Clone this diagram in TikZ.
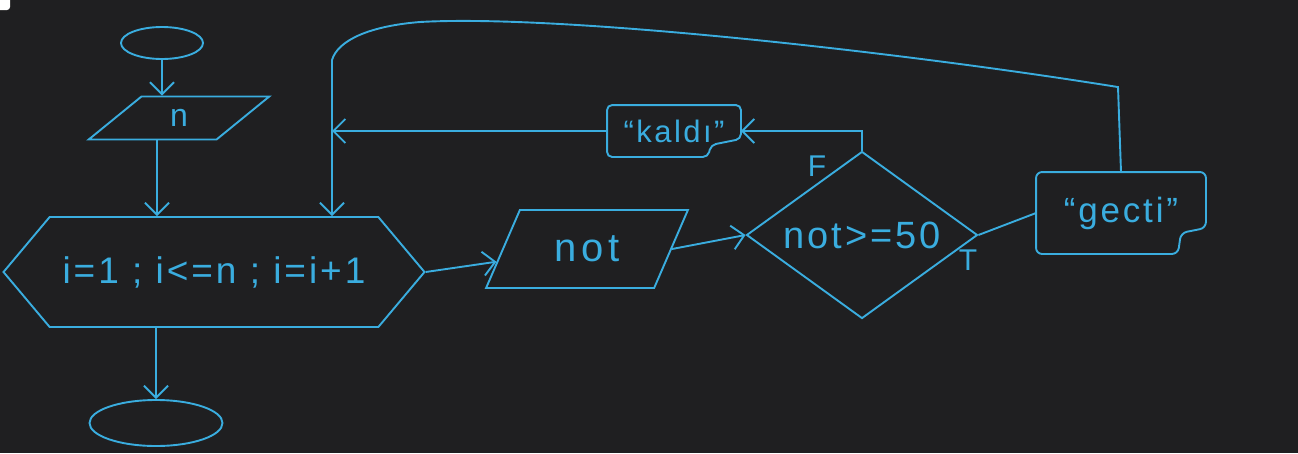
\documentclass[tikz,border=0pt]{standalone}
\usepackage{fontspec}
\setmainfont{Liberation Sans}
\usetikzlibrary{shapes.geometric,shapes.symbols,arrows.meta,calc}
\definecolor{bg}{HTML}{1F1F21}
\definecolor{ink}{HTML}{3AADDF}
\begin{document}
\begin{tikzpicture}[x=1pt,y=-1pt,line width=1.9pt,draw=ink,
  every node/.style={text=ink,inner sep=0pt},
  shp/.style={draw=ink,line width=1.9pt},
  arr/.style={-{Straight Barb[length=12pt,width=24pt]}},
  tx/.style={font=\fontsize{#1}{#1}\selectfont\addfontfeature{LetterSpace=8}},
  para/.style={shp,trapezium,trapezium stretches=true,trapezium left angle=#1,trapezium right angle=180-#1}]
\fill[bg] (0,0) rectangle (1298,453);
\useasboundingbox (0,0) rectangle (1298,453);
\fill[white,rounded corners=3pt] (-5,-5) rectangle (10,10);

% nodes
\node[shp,ellipse,minimum width=82pt,minimum height=32pt] (start) at (162,43) {};
\node[para=54,minimum width=181pt,minimum height=43pt,tx=32] (n) at (179,118) {n};
\node[shp,signal,signal to=east and west,signal pointer angle=100,
      minimum width=421pt,minimum height=110pt,tx=37] (loop) at (214,272) {i=1 ; i<=n ; i=i+1};
\node[shp,ellipse,minimum width=133pt,minimum height=46pt] (end) at (156,423) {};
\node[para=58,minimum width=202pt,minimum height=78pt,font=\fontsize{40}{40}\selectfont\addfontfeature{LetterSpace=12}] (notin) at (587,249) {not};
\node[shp,diamond,aspect=1.4,minimum width=231pt,minimum height=167pt,tx=38] (dec) at (862,235) {not>=50};
\node[minimum width=132pt,minimum height=50pt,tx=31] (kaldi) at (674,131) {“kaldı”};
\node[minimum width=168pt,minimum height=80pt,tx=35] (gecti) at (1121,213) {“gecti”};
\node[tx=30] (flab) at (817,166) {F};
\node[tx=30] (tlab) at (968,260) {T};
\coordinate (top) at (332,60);

% notched boxes
\draw[rounded corners=5pt] (kaldi.north west) -- (kaldi.north east)
  -- ([yshift=18pt]kaldi.south east) -- ([xshift=-30pt,yshift=12pt]kaldi.south east)
  -- ([xshift=-33pt]kaldi.south east) -- (kaldi.south west) -- cycle;
\draw[rounded corners=6pt] (gecti.north west) -- (gecti.north east)
  -- ([yshift=26pt]gecti.south east) -- ([xshift=-25pt,yshift=21pt]gecti.south east)
  -- ([xshift=-28pt]gecti.south east) -- (gecti.south west) -- cycle;

% connectors
\draw[arr] (start.south) -- (start.south |- n.north);
\draw[arr] ([xshift=-22pt]n.south) -- ([xshift=-22pt]n.south |- loop.north);
\draw[arr] (loop.south -| end.north) -- (end.north);
\draw[arr] (loop.east) -- (notin.188);
\draw[arr] (notin.east) -- (dec.west);
\draw[arr] (dec.north) |- (kaldi.east);
\draw[arr] (kaldi.west) -- (top |- kaldi.west);
\draw (dec.east) -- (gecti.west);
\draw[arr] (gecti.north) -- ++(-3,-85)
  .. controls (900,52) and (560,14) .. (420,22)
  .. controls (370,26) and (338,40) .. (top) -- (top |- loop.north);
\end{tikzpicture}
\end{document}
